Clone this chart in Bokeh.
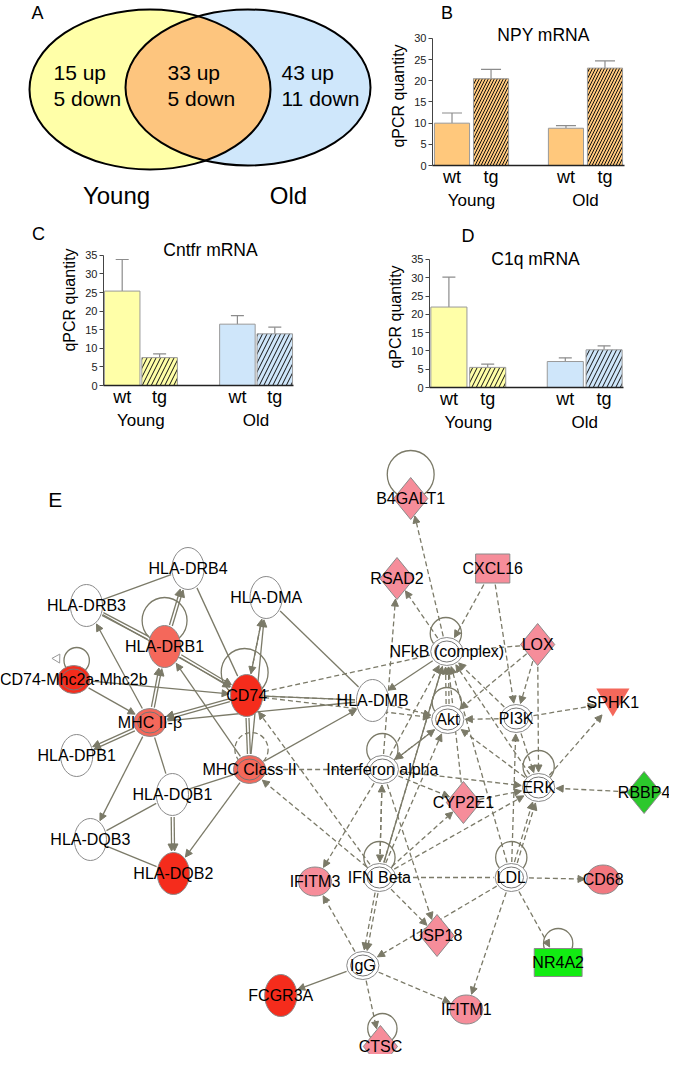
import numpy as np
from bokeh.plotting import figure
from bokeh.models import (ColumnDataSource, FactorRange, Range1d, Label, Whisker,
                          TeeHead, Arrow, NormalHead)
from bokeh.layouts import column, row
from bokeh.core.properties import value
from bokeh.embed import file_html
from bokeh.resources import INLINE

FONT = "Liberation Sans"

# ---------------- data ----------------
venn_sets = ["Young", "Old"]
venn_young_only = ["15 up", "5 down"]
venn_shared = ["33 up", "5 down"]
venn_old_only = ["43 up", "11 down"]

age_groups = ["Young", "Old"]
genotypes = ["wt", "tg"]
npy_mean = [10.0, 20.5, 8.8, 23.0]
npy_sem = [2.4, 2.2, 0.6, 1.7]
cntfr_mean = [25.4, 7.5, 16.5, 13.9]
cntfr_sem = [8.5, 1.0, 2.3, 1.8]
c1q_mean = [22.0, 5.5, 7.1, 10.3]
c1q_sem = [8.2, 0.9, 1.0, 1.1]
npy_ticks = [0, 5, 10, 15, 20, 25, 30]
c_ticks = [0, 5, 10, 15, 20, 25, 30, 35]

node_names = ["HLA-DRB4", "HLA-DRB3", "HLA-DMA", "HLA-DRB1", "CD74-Mhc2a-Mhc2b", "CD74",
              "MHC II-β", "HLA-DPB1", "MHC Class II", "HLA-DQB1", "HLA-DQB3", "HLA-DQB2",
              "B4GALT1", "RSAD2", "CXCL16", "NFkB (complex)", "LOX", "HLA-DMB", "Akt", "PI3K",
              "SPHK1", "Interferon alpha", "ERK", "CYP2E1", "RBBP4", "IFITM3", "IFN Beta", "LDL",
              "CD68", "USP18", "IgG", "NR4A2", "FCGR3A", "IFITM1", "CTSC"]
node_kind = ["ell", "ell", "ell", "ell", "dbl", "ell",
             "dbl", "ell", "dbl", "ell", "ell", "ell",
             "dia", "dia", "sq", "dbl", "dia", "ell", "dbl", "dbl",
             "tri", "dbl", "dbl", "dia", "dia", "cir", "dbl", "dbl",
             "cir", "dia", "dbl", "sqw", "ell", "cir", "dia"]
node_level = ["none", "none", "none", "up2", "up3", "up3",
              "up2", "none", "up2", "none", "none", "up3",
              "up1", "up1", "up1", "none", "up1", "none", "none", "none",
              "up2", "none", "none", "up1", "down1", "up1", "none", "none",
              "upm", "up1", "none", "down2", "up3", "up1", "up1"]
# network layout (node centres)
node_x = [192, 88, 272, 168, 75, 252, 153, 78, 255, 176, 92, 177,
          420, 406, 504, 457, 550, 381, 458, 528, 627, 391, 551, 474, 659,
          322, 388, 523, 617, 447, 371, 571, 287, 477, 389]
node_y = [576, 613, 605, 654, 687, 703, 730, 763, 777, 802, 847, 881,
          506, 586, 576, 659, 652, 708, 727, 726, 710, 777, 795, 810, 800,
          889, 885, 885, 887, 943, 973, 970, 1003, 1017, 1054]

edge_from = ["HLA-DRB3", "HLA-DRB3", "HLA-DRB3", "HLA-DRB1", "MHC II-β", "MHC II-β", "HLA-DRB1",
             "HLA-DRB4", "HLA-DMA", "CD74", "HLA-DMA", "CD74-Mhc2a-Mhc2b", "CD74-Mhc2a-Mhc2b",
             "CD74", "MHC II-β", "MHC II-β", "MHC II-β", "MHC Class II", "MHC Class II",
             "MHC Class II", "MHC Class II", "MHC Class II", "HLA-DQB1", "HLA-DQB1", "HLA-DQB3",
             "MHC II-β", "CD74", "MHC Class II", "CD74", "CD74", "CD74", "MHC Class II",
             "IFN Beta", "IFN Beta", "NFkB (complex)", "NFkB (complex)", "Interferon alpha",
             "CXCL16", "CXCL16", "LOX", "LOX", "LOX", "LOX", "NFkB (complex)", "HLA-DMB", "PI3K",
             "PI3K", "ERK", "Akt", "PI3K", "Interferon alpha", "IFN Beta", "IFN Beta", "ERK",
             "LDL", "CYP2E1", "Interferon alpha", "Interferon alpha", "IFN Beta", "PI3K", "ERK",
             "Interferon alpha", "Interferon alpha", "Interferon alpha", "Interferon alpha",
             "IFN Beta", "IFN Beta", "IFN Beta", "IFN Beta", "IFN Beta", "IgG", "LDL", "IgG",
             "IgG", "IgG", "LDL", "LDL", "LDL", "LDL", "RBBP4", "CYP2E1", "LDL",
             "IFN Beta", "Akt"]
edge_to = ["HLA-DRB4", "HLA-DRB1", "CD74", "CD74", "HLA-DRB3", "HLA-DRB1", "HLA-DRB4",
           "CD74", "CD74", "HLA-DMA", "HLA-DMB", "MHC II-β", "CD74",
           "MHC II-β", "HLA-DPB1", "HLA-DQB3", "HLA-DQB1", "HLA-DRB1", "CD74",
           "HLA-DMA", "HLA-DQB1", "HLA-DQB2", "HLA-DQB2", "HLA-DQB3", "HLA-DQB2",
           "HLA-DMB", "HLA-DMB", "HLA-DMB", "NFkB (complex)", "HLA-DMB", "Akt", "Interferon alpha",
           "CD74", "MHC Class II", "B4GALT1", "RSAD2", "RSAD2",
           "NFkB (complex)", "PI3K", "NFkB (complex)", "Akt", "PI3K", "ERK", "HLA-DMB", "Akt", "Akt",
           "SPHK1", "SPHK1", "NFkB (complex)", "NFkB (complex)", "NFkB (complex)", "NFkB (complex)",
           "NFkB (complex)", "NFkB (complex)",
           "NFkB (complex)", "NFkB (complex)", "Akt", "ERK", "Akt", "ERK", "Akt",
           "IFITM3", "IFN Beta", "USP18", "CYP2E1",
           "CYP2E1", "ERK", "LDL", "USP18", "IgG", "IFITM3", "IgG", "FCGR3A",
           "IFITM1", "CTSC", "IFITM1", "CD68", "NR4A2", "ERK", "ERK", "ERK", "PI3K",
           "Interferon alpha", "Interferon alpha"]
edge_type = ["d", "d", "d", "d", "d", "d", "d",
             "d", "i", "d", "d", "d", "d",
             "d", "d", "d", "d", "d", "d",
             "d", "d", "d", "d", "d", "d",
             "d", "d", "d", "i", "i", "i", "i",
             "i", "i", "i", "i", "i",
             "i", "i", "i", "i", "i", "i", "d", "i", "i",
             "i", "i", "i", "i", "i", "d", "i", "i",
             "i", "i", "i", "i", "i", "i", "i",
             "i", "i", "i", "i",
             "i", "i", "i", "i", "i", "i", "i", "d",
             "i", "i", "i", "i", "i", "i", "i", "i", "i",
             "i", "i"]
edge_head = [0, 0, 1, 1, 1, 1, 1,
             0, 1, 1, 0, 1, 1,
             1, 1, 1, 0, 1, 0,
             1, 0, 1, 1, 0, 0,
             0, 0, 1, 0, 0, 1, 0,
             1, 1, 1, 1, 1,
             1, 1, 0, 1, 1, 1, 1, 1, 1,
             1, 1, 1, 1, 1, 1, 1, 1,
             1, 1, 1, 1, 1, 1, 1,
             1, 1, 1, 1,
             1, 1, 0, 1, 1, 1, 1, 1,
             1, 1, 1, 1, 1, 1, 1, 1, 1,
             1, 1]
edge_mult = [1, 2, 1, 2, 1, 2, 2,
             1, 1, 1, 1, 1, 1,
             2, 2, 1, 1, 1, 2,
             1, 1, 1, 2, 1, 1,
             1, 1, 1, 1, 1, 1, 1,
             1, 1, 1, 1, 1,
             1, 1, 1, 1, 1, 1, 1, 1, 1,
             1, 1, 2, 1, 1, 1, 1, 1,
             1, 1, 1, 1, 1, 1, 1,
             1, 1, 1, 1,
             1, 1, 1, 1, 2, 1, 1, 1,
             1, 1, 1, 1, 1, 2, 1, 1, 1,
             1, 1]

loop_nodes = ["HLA-DRB1", "CD74", "CD74-Mhc2a-Mhc2b", "B4GALT1", "NFkB (complex)", "Akt",
              "MHC Class II", "IFN Beta", "LDL", "ERK", "NR4A2", "CTSC", "Interferon alpha"]

# ---------------- styles ----------------
EC = "#7b7a68"
LEVEL_COLOR = {"none": "white", "up1": "#F68D9A", "upm": "#F27880", "up2": "#F4685B",
               "up3": "#F52C1C", "down1": "#2CC82C", "down2": "#12EC12"}
SIZES = {"ell": (33, 42), "dbl": (33, 28), "dia": (35, 42), "sq": (35, 29),
         "sqw": (49, 28), "tri": (34, 28), "cir": (34, 29)}
LOOP_GEOM = {"HLA-DRB1": (0, -26, 23, False), "CD74": (-2, -23, 24, False),
             "CD74-Mhc2a-Mhc2b": (3, -19, 13, False), "B4GALT1": (0, -24, 24, False),
             "NFkB (complex)": (-1, -18, 16, False), "Akt": (-1, -17, 15, False),
             "MHC Class II": (2, -20, 17, True), "IFN Beta": (0, -20, 16, False),
             "LDL": (0, -20, 16, False), "ERK": (0, -21, 16, False),
             "NR4A2": (0, -19, 15, False), "CTSC": (2, -18, 15, False),
             "Interferon alpha": (0, -20, 16, False)}


def base_fig(w, h, xr, yr):
    p = figure(width=w, height=h, x_range=xr, y_range=yr, toolbar_location=None,
               output_backend="svg", min_border=0, x_axis_location=None,
               y_axis_location=None, outline_line_color=None)
    p.grid.visible = False
    return p


def letter(p, x, y, t, size="18px"):
    p.text(x=[x], y=[y], text=[t], text_align="center", text_baseline="middle",
           text_font=value(FONT), text_font_size=size, text_color="black")


# ---------------- Panel A: Venn ----------------
pa = base_fig(377, 214, Range1d(8, 385), Range1d(222, 8))
YE = (157.5, 97.0, 241.0, 160.0)
BE = (255.5, 95.0, 245.0, 156.0)
pa.ellipse(x=[YE[0]], y=[YE[1]], width=[YE[2]], height=[YE[3]], fill_color="#FFFFA8", line_color=None)
pa.ellipse(x=[BE[0]], y=[BE[1]], width=[BE[2]], height=[BE[3]], fill_color="#CFE7FB", line_color=None)


def inside(px, py, e):
    return ((px - e[0]) / (e[2] / 2)) ** 2 + ((py - e[1]) / (e[3] / 2)) ** 2 <= 1


t1 = np.linspace(-np.pi, np.pi, 1441)
yx, yy = YE[0] + YE[2] / 2 * np.cos(t1), YE[1] + YE[3] / 2 * np.sin(t1)
m1 = inside(yx, yy, BE)
t2 = np.linspace(0, 2 * np.pi, 1441)
bx, by = BE[0] + BE[2] / 2 * np.cos(t2), BE[1] + BE[3] / 2 * np.sin(t2)
m2 = inside(bx, by, YE)
lx = np.concatenate([yx[m1], bx[m2]])
ly = np.concatenate([yy[m1], by[m2]])
pa.patch(lx, ly, fill_color="#FDC57E", line_color=None)
for e in (YE, BE):
    pa.ellipse(x=[e[0]], y=[e[1]], width=[e[2]], height=[e[3]], fill_color=None,
               line_color="black", line_width=2)
for xs, lab in ((61, venn_young_only), (175, venn_shared), (289, venn_old_only)):
    pa.text(x=[xs, xs], y=[80, 106], text=lab, text_align="left", text_baseline="middle",
            text_font=value(FONT), text_font_size="21px", text_color="black")
pa.text(x=[124, 296], y=[203, 203], text=venn_sets, text_align="center", text_baseline="middle",
        text_font=value(FONT), text_font_size="24px", text_color="black")
letter(pa, 45, 20, "A")

# strips holding the panel letters B, C, D
sb = base_fig(292, 26, Range1d(385, 677), Range1d(34, 8))
letter(sb, 407, 20, "B")
sc = base_fig(58, 222, Range1d(8, 66), Range1d(444, 222))
letter(sc, 46, 247, "C")
sd = base_fig(337, 32, Range1d(340, 677), Range1d(254, 222))
letter(sd, 407, 243, "D")


# ---------------- bar panels ----------------
def bar_panel(means, sems, fills, ytop, ybound, ticks, width, height, borders, gpad, bwidth,
              hscale, cap, title, title_xy):
    factors = [(g, s) for g in age_groups for s in genotypes]
    xr = FactorRange(factors=factors, group_padding=gpad, factor_padding=0, range_padding=0)
    left, right, top, bottom = borders
    p = figure(width=width, height=height, x_range=xr, y_range=Range1d(0, ytop),
               toolbar_location=None, output_backend="svg", min_border_left=left,
               min_border_right=right, min_border_top=top, min_border_bottom=bottom,
               outline_line_color=None)
    upper = [m + s for m, s in zip(means, sems)]
    hatches = [" " if s == "wt" else "/" for g, s in factors]
    src = ColumnDataSource(dict(x=factors, top=means, upper=upper, fill=fills, hatch=hatches))
    p.vbar(x="x", top="top", width=bwidth, source=src, fill_color="fill", line_color="#9a9a9a",
           line_width=1, hatch_pattern="hatch", hatch_color="#111111", hatch_scale=hscale,
           hatch_weight=1)
    p.add_layout(Whisker(source=src, base="x", upper="upper", lower="top",
                         line_color="#8c8c8c", line_width=1.2,
                         upper_head=TeeHead(size=cap, line_color="#8c8c8c", line_width=1.2),
                         lower_head=None))
    p.xgrid.visible = False
    p.ygrid.visible = False
    p.yaxis.ticker = ticks
    p.yaxis.bounds = (0, ybound)
    p.yaxis.axis_line_color = "#444444"
    p.yaxis.major_tick_line_color = "#444444"
    p.yaxis.major_tick_out = 4
    p.yaxis.major_tick_in = 0
    p.yaxis.minor_tick_line_color = None
    p.yaxis.major_label_text_font = FONT
    p.yaxis.major_label_text_font_size = "11px"
    p.yaxis.major_label_text_color = "#222222"
    p.yaxis.major_label_standoff = 2
    p.yaxis.axis_label = "qPCR quantity"
    p.yaxis.axis_label_text_font = FONT
    p.yaxis.axis_label_text_font_size = "16px"
    p.yaxis.axis_label_text_font_style = "normal"
    p.yaxis.axis_label_text_color = "black"
    p.yaxis.axis_label_standoff = 4
    p.xaxis.axis_line_color = "#222222"
    p.xaxis.axis_line_width = 1.5
    p.xaxis.major_tick_line_color = None
    p.xaxis.major_tick_out = 0
    p.xaxis.major_tick_in = 0
    p.xaxis.major_label_text_font = FONT
    p.xaxis.major_label_text_font_size = "18px"
    p.xaxis.major_label_text_color = "black"
    p.xaxis.major_label_standoff = 1
    p.xaxis.group_text_font = FONT
    p.xaxis.group_text_font_size = "17px"
    p.xaxis.group_text_color = "black"
    p.xaxis.group_text_font_style = "normal"
    p.xaxis.separator_line_color = None
    p.add_layout(Label(x=title_xy[0], y=title_xy[1], x_units="screen", y_units="screen",
                       text=title, text_font=FONT, text_font_size="17.5px",
                       text_align="center", text_baseline="middle", text_color="black"))
    return p


ORANGE, YELLOW, BLUE = "#FFC87C", "#FFFFA8", "#CFE6FA"
pb = bar_panel(npy_mean, npy_sem, [ORANGE] * 4, 32.83, 30, npy_ticks, 292, 188, (55, 45, 0, 49),
               0.92, 0.9, 6, 20, "NPY mRNA", (111, 131))
pc = bar_panel(cntfr_mean, cntfr_sem, [YELLOW, YELLOW, BLUE, BLUE], 46.0, 35, c_ticks, 274, 222,
               (42, 39, 0, 51), 1.08, 0.95, 9, 13, "Cntfr mRNA", (107, 136))
pd = bar_panel(c1q_mean, c1q_sem, [YELLOW, YELLOW, BLUE, BLUE], 38.55, 35, c_ticks, 337, 190,
               (97, 46, 0, 49), 1.0, 0.93, 9, 13, "C1q mRNA", (106, 129))

# ---------------- Panel E: network ----------------
pe = base_fig(669, 618, Range1d(0, 685), Range1d(1062, 444))
pos = {n: (x, y) for n, x, y in zip(node_names, node_x, node_y)}
kind = dict(zip(node_names, node_kind))


def boundary(n, ux, uy):
    k = kind[n]
    w, h = SIZES[k]
    a, b = w / 2 + 1.5, h / 2 + 1.5
    if k == "dia":
        return 1.0 / (abs(ux) / a + abs(uy) / b)
    if k in ("sq", "sqw"):
        return min(a / max(abs(ux), 1e-9), b / max(abs(uy), 1e-9))
    return 1.0 / np.hypot(ux / a, uy / b)


groups = {}
for f, t, ty, hd, m in zip(edge_from, edge_to, edge_type, edge_head, edge_mult):
    x0, y0 = pos[f]
    x1, y1 = pos[t]
    dx, dy = x1 - x0, y1 - y0
    L = np.hypot(dx, dy)
    ux, uy = dx / L, dy / L
    s0, s1 = boundary(f, ux, uy), boundary(t, -ux, -uy)
    offs = (np.arange(m) - (m - 1) / 2) * 3.0
    for o in offs:
        px, py = -uy * o, ux * o
        d = groups.setdefault((ty, hd), dict(x0=[], y0=[], x1=[], y1=[]))
        d["x0"].append(x0 + ux * s0 + px)
        d["y0"].append(y0 + uy * s0 + py)
        d["x1"].append(x1 - ux * s1 + px)
        d["y1"].append(y1 - uy * s1 + py)

for (ty, hd), d in groups.items():
    pe.add_layout(Arrow(source=ColumnDataSource(d), x_start="x0", y_start="y0",
                        x_end="x1", y_end="y1", line_color=EC, line_width=1.3,
                        line_dash="5 3" if ty == "i" else "solid",
                        end=NormalHead(size=7, fill_color=EC, line_color=EC, line_width=1) if hd else None,
                        level="underlay"))

# self loops
for dashed in (False, True):
    lxs, lys, lr = [], [], []
    for n in loop_nodes:
        gx, gy, r, ds = LOOP_GEOM[n]
        if ds != dashed:
            continue
        lxs.append(pos[n][0] + gx)
        lys.append(pos[n][1] + gy)
        lr.append(2 * r)
    pe.ellipse(x=lxs, y=lys, width=lr, height=lr, fill_color=None, line_color=EC,
               line_width=1.3, line_dash="5 3" if dashed else "solid")
cx, cy = pos["CD74-Mhc2a-Mhc2b"]
pe.scatter(x=[cx - 17], y=[cy - 21], marker="inverted_triangle", size=9, angle=0.5,
           fill_color="white", line_color="#999999")

# nodes
OUT = "#8a8a8a"
for k in ("ell", "cir", "dbl"):
    sel = [i for i, kk in enumerate(node_kind) if kk == k]
    w, h = SIZES[k]
    pe.ellipse(x=[node_x[i] for i in sel], y=[node_y[i] for i in sel], width=w, height=h,
               fill_color=[LEVEL_COLOR[node_level[i]] for i in sel], line_color=OUT, line_width=1)
    if k == "dbl":
        pe.ellipse(x=[node_x[i] for i in sel], y=[node_y[i] for i in sel], width=w - 8, height=h - 7,
                   fill_color=None, line_color="#777777", line_width=1)
for k in ("sq", "sqw"):
    sel = [i for i, kk in enumerate(node_kind) if kk == k]
    w, h = SIZES[k]
    pe.rect(x=[node_x[i] for i in sel], y=[node_y[i] for i in sel], width=w, height=h,
            fill_color=[LEVEL_COLOR[node_level[i]] for i in sel], line_color=OUT, line_width=1)
sel = [i for i, kk in enumerate(node_kind) if kk == "dia"]
w, h = SIZES["dia"]
pe.patches(xs=[[node_x[i], node_x[i] + w / 2, node_x[i], node_x[i] - w / 2] for i in sel],
           ys=[[node_y[i] - h / 2, node_y[i], node_y[i] + h / 2, node_y[i]] for i in sel],
           fill_color=[LEVEL_COLOR[node_level[i]] for i in sel], line_color=OUT, line_width=1)
sel = [i for i, kk in enumerate(node_kind) if kk == "tri"]
w, h = SIZES["tri"]
pe.patches(xs=[[node_x[i] - w / 2, node_x[i] + w / 2, node_x[i]] for i in sel],
           ys=[[node_y[i] - h / 2, node_y[i] - h / 2, node_y[i] + h / 2] for i in sel],
           fill_color=[LEVEL_COLOR[node_level[i]] for i in sel], line_color=None)

pe.text(x=node_x, y=node_y, text=node_names, text_align="center", text_baseline="middle",
        text_font=value(FONT), text_font_size="16px", text_color="black")
letter(pe, 56, 507, "E", "21px")

layout = column(row(pa, column(sb, pb)), row(sc, pc, column(sd, pd)), pe)
open("out.html", "w").write(file_html(layout, INLINE))
